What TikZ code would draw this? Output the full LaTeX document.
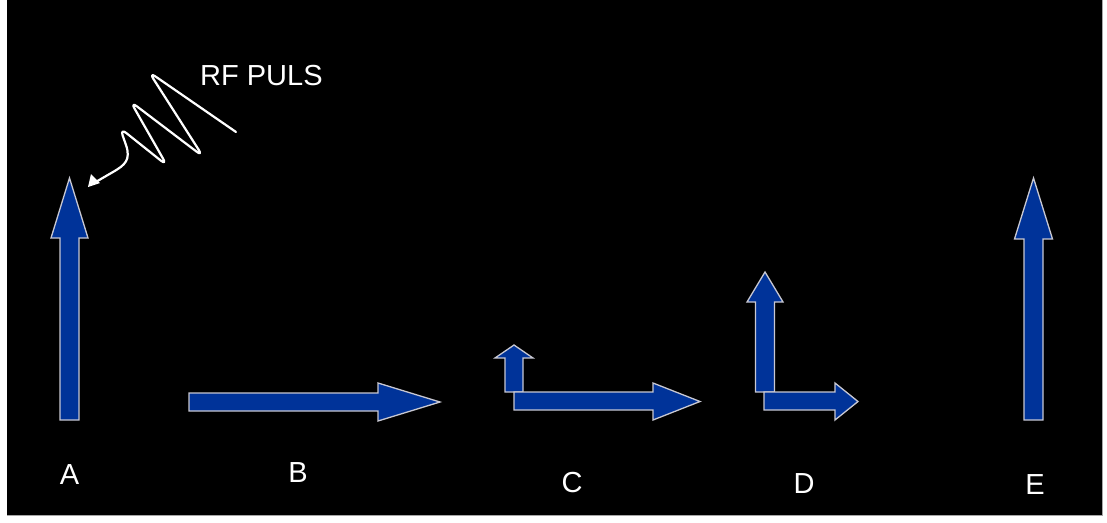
\documentclass[tikz,border=0pt]{standalone}
\usepackage{fontspec}
\setmainfont{Liberation Sans}
\usetikzlibrary{arrows.meta}
\definecolor{vecblue}{RGB}{0,51,153}
\definecolor{vecedge}{RGB}{200,200,210}
\tikzset{
  vec/.style={fill=vecblue, draw=vecedge, line width=1.3pt, line join=miter},
  lbl/.style={text=white, font=\fontsize{29}{31}\selectfont, inner sep=0pt, anchor=base},
  wave/.style={draw=white, line width=2.2pt, line cap=round, line join=round},
}
\begin{document}
\begin{tikzpicture}[x=1pt,y=-1pt]
\useasboundingbox (0,0) rectangle (1107,522);
\fill[white] (0,0) rectangle (1107,522);
\fill[black] (7,0) rectangle (1102,515);
\draw[gray!70, line width=1pt] (1102,0) -- (1102,515) -- (7,515);

% A
\draw[vec] (60,420) -- (60,238) -- (51,238) -- (69.5,178) -- (88,238) -- (79,238) -- (79,420) -- cycle;
% B
\draw[vec] (189,393) -- (378,393) -- (378,383) -- (440,402) -- (378,421) -- (378,411) -- (189,411) -- cycle;
% C
\draw[vec] (505,392) -- (505,358) -- (495,358) -- (514,345) -- (533,358) -- (523,358) -- (523,392) -- cycle;
\draw[vec] (514,392) -- (653,392) -- (653,383) -- (700,401.5) -- (653,420) -- (653,410) -- (514,410) -- cycle;
% D
\draw[vec] (755.5,392) -- (755.5,302) -- (747,302) -- (765,272) -- (783,302) -- (774.5,302) -- (774.5,392) -- cycle;
\draw[vec] (764,392) -- (835,392) -- (835,383) -- (858,401.5) -- (835,420) -- (835,410) -- (764,410) -- cycle;
% E
\draw[vec] (1024,420) -- (1024,239) -- (1014.5,239) -- (1033.5,178) -- (1052.5,239) -- (1043,239) -- (1043,420) -- cycle;

% RF pulse
\coordinate (rfstart) at (236,132);
\coordinate (rftip) at (88,187);
\draw[wave, rounded corners=8pt] (rfstart) -- (149,72) -- (203,156.5) -- (130.5,101.5) -- (167,165.5) -- (120,128) -- (126,145);
\draw[wave] (126,145) .. controls (131,160) and (125,165) .. (113,172) -- ([shift={(6,-4)}]rftip);
\fill[white] (rftip) -- ++(3,-13) -- ++(9,9) -- cycle;

\node[lbl, anchor=base west] (rf) at (200,85) {RF PULS};
\node[lbl] (la) at (69.5,484) {A};
\node[lbl] (lb) at (298,482) {B};
\node[lbl] (lc) at (572,492.5) {C};
\node[lbl] (ld) at (804,493) {D};
\node[lbl] (le) at (1035,494) {E};
\end{tikzpicture}
\end{document}
